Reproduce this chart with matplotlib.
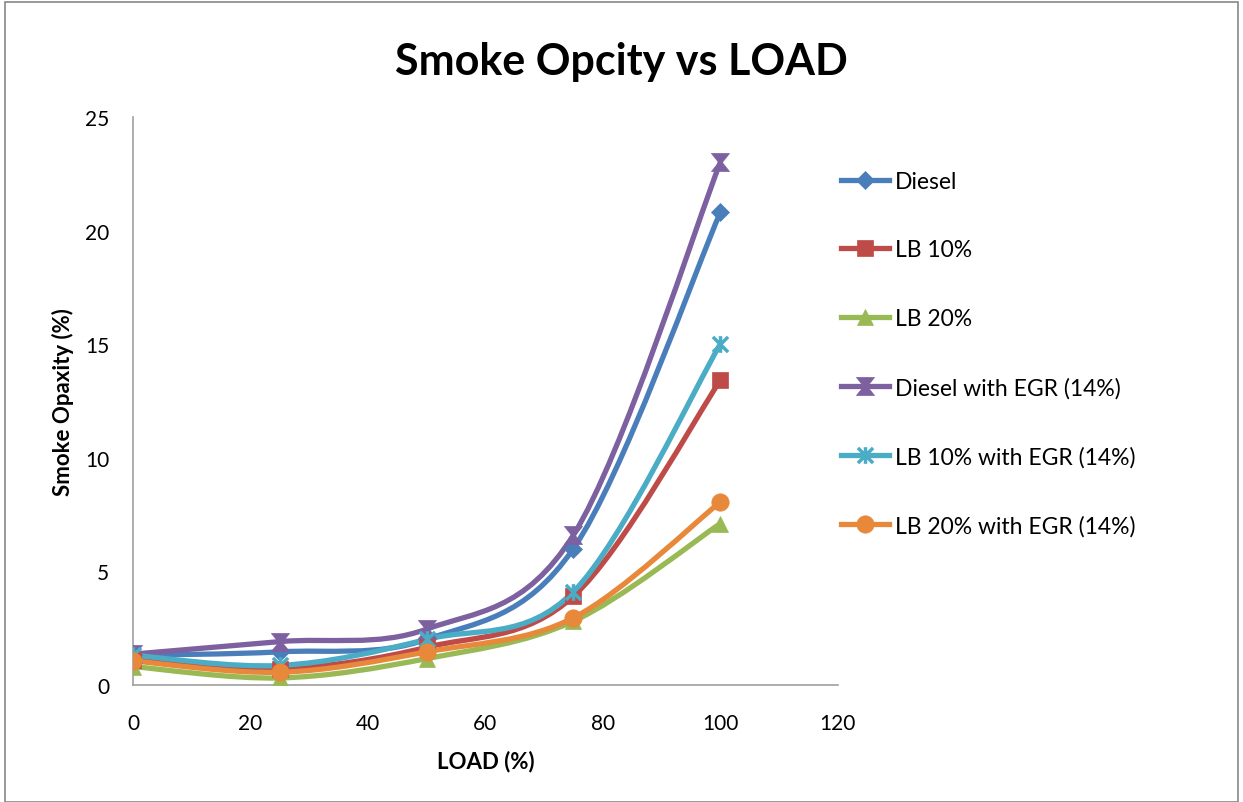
import numpy as np
import matplotlib.pyplot as plt
from matplotlib.path import Path
from matplotlib.patches import PathPatch, Rectangle
from matplotlib.lines import Line2D

plt.rcParams['font.family'] = ['Lato', 'DejaVu Sans']

# data
load = [0, 25, 50, 75, 100]
diesel = [1.3, 1.45, 2.0, 6.0, 20.8]
lb10 = [1.1, 0.7, 1.65, 3.9, 13.4]
lb20 = [0.8, 0.3, 1.15, 2.8, 7.1]
diesel_egr = [1.35, 1.9, 2.45, 6.6, 23.0]
lb10_egr = [1.3, 0.85, 2.0, 4.1, 15.0]
lb20_egr = [1.05, 0.55, 1.45, 2.95, 8.05]

names = ['Diesel', 'LB 10%', 'LB 20%', 'Diesel with EGR (14%)',
         'LB 10% with EGR (14%)', 'LB 20% with EGR (14%)']
colors = ['#4A7EBB', '#BE4B48', '#98B954', '#7D60A0', '#4BACC6', '#E8883A']

# custom markers
hourglass = [(-1, 1), (1, 1), (0.2, 0), (1, -1), (-1, -1), (-0.2, 0), (-1, 1)]
star = Path([(-1, -1), (1, 1), (-1, 1), (1, -1), (0, -1.1), (0, 1.1)],
            [Path.MOVETO, Path.LINETO, Path.MOVETO, Path.LINETO, Path.MOVETO, Path.LINETO])
markers = ['D', 's', '^', hourglass, star, 'o']
msizes = [9.5, 11.5, 11.5, 13, 12, 12.5]


def smooth_path(x, y):
    # excel-like smoothed line as cubic bezier segments
    pts = np.column_stack([x, y]).astype(float)
    n = len(pts)
    verts = [pts[0]]
    codes = [Path.MOVETO]
    for i in range(n - 1):
        p0 = pts[max(i - 1, 0)]
        p1 = pts[i]
        p2 = pts[i + 1]
        p3 = pts[min(i + 2, n - 1)]
        c1 = p1 + (p2 - p0) / 6.0
        c2 = p2 - (p3 - p1) / 6.0
        verts += [c1, c2, p2]
        codes += [Path.CURVE4] * 3
    return Path(verts, codes)


fig = plt.figure(figsize=(12.43, 8.03), dpi=100)
ax = fig.add_axes([0.107, 0.146, 0.567, 0.707])

series = [diesel, lb10, lb20, diesel_egr, lb10_egr, lb20_egr]
handles = []
for vals, name, c, m, ms in zip(series, names, colors, markers, msizes):
    ax.add_patch(PathPatch(smooth_path(load, vals), facecolor='none', edgecolor=c,
                           lw=3.8, capstyle='round', joinstyle='round', zorder=3))
    mew = 2.5 if m is star else 0.5
    ax.plot(load, vals, ls='none', marker=m, ms=ms, color=c, mec=c, mew=mew, zorder=4)
    handles.append(Line2D([0], [0], color=c, lw=3.8, marker=m, ms=ms, mec=c, mew=mew))

ax.set_xlim(0, 120)
ax.set_ylim(0, 25)
ax.set_xticks(range(0, 121, 20))
ax.set_yticks(range(0, 26, 5))
for s in ['top', 'right']:
    ax.spines[s].set_visible(False)
for s in ['left', 'bottom']:
    ax.spines[s].set_color('#A0A0A0')
    ax.spines[s].set_linewidth(1.2)
ax.tick_params(labelcolor='black', labelsize=15, length=0)
ax.tick_params(axis='x', pad=20)
ax.tick_params(axis='y', pad=17)
for t in ax.get_xticklabels():
    t.set_clip_on(False)

ax.set_xlabel('LOAD (%)', fontsize=16, fontweight='bold', labelpad=12)
ax.set_ylabel('Smoke Opaxity (%)', fontsize=16, fontweight='bold', labelpad=8)
fig.suptitle('Smoke Opcity vs LOAD', fontsize=31, fontweight='bold', x=0.5, y=0.948)

fig.legend(handles, names, loc='upper left', bbox_to_anchor=(0.66, 0.812),
           frameon=False, fontsize=16.5, labelspacing=2.08, handlelength=2.1,
           handletextpad=0.25)

fig.patches.append(Rectangle((0.004, 0.0), 0.992, 0.996, transform=fig.transFigure,
                             fill=False, edgecolor='#888888', lw=1.2))

fig.savefig('out.png', dpi=100)
